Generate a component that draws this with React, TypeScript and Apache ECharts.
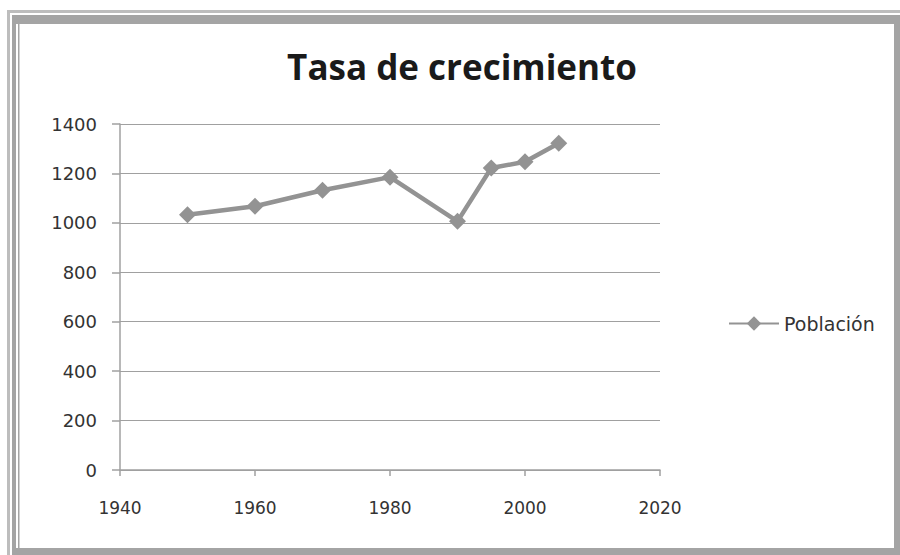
import React, { useEffect, useRef } from "react";
import * as echarts from "echarts";

const years = [1950, 1960, 1970, 1980, 1990, 1995, 2000, 2005];
const poblacion = [1033, 1067, 1132, 1185, 1006, 1222, 1247, 1322];
const titleText = "Tasa de crecimiento";
const seriesName = "Población";

export default function App() {
  const ref = useRef<HTMLDivElement>(null);
  useEffect(() => {
    if (!ref.current) return;
    const chart = echarts.init(ref.current, undefined, { renderer: "svg" });
    const data = years.map((y, i) => [y, poblacion[i]]);
    chart.setOption({
      animation: false,
      backgroundColor: "#ffffff",
      title: {
        text: titleText,
        left: 457,
        textAlign: "center",
        top: 44,
        textStyle: {
          fontFamily: "Open Sans",
          fontWeight: "bold",
          fontSize: 35,
          color: "#1a1a1a",
        },
      },
      legend: {
        left: 723,
        top: 309,
        itemWidth: 50,
        itemHeight: 18,
        itemGap: 6,
        textStyle: { fontFamily: "DejaVu Sans", fontSize: 19, color: "#333" },
        data: [seriesName],
      },
      grid: { left: 120, right: 240, top: 124, bottom: 85 },
      xAxis: {
        type: "value",
        min: 1940,
        max: 2020,
        interval: 20,
        axisLine: { show: true, lineStyle: { color: "#a0a0a0", width: 1.5 } },
        axisTick: { show: true, length: 6, lineStyle: { color: "#a0a0a0", width: 1.5 } },
        splitLine: { show: false },
        axisLabel: {
          margin: 29,
          fontFamily: "DejaVu Sans",
          fontSize: 17,
          color: "#333",
          formatter: (v: number) => String(v),
        },
      },
      yAxis: {
        type: "value",
        min: 0,
        max: 1400,
        interval: 200,
        axisLine: { show: true, lineStyle: { color: "#a0a0a0", width: 1.5 } },
        axisTick: { show: true, length: 8, lineStyle: { color: "#a0a0a0", width: 1.5 } },
        splitLine: { show: true, lineStyle: { color: "#a0a0a0", width: 1 } },
        axisLabel: {
          margin: 23,
          fontFamily: "DejaVu Sans",
          fontSize: 18,
          color: "#333",
          formatter: (v: number) => String(v),
        },
      },
      series: [
        {
          name: seriesName,
          type: "line",
          data,
          symbol: "diamond",
          symbolSize: 17,
          lineStyle: { color: "#939393", width: 4.5 },
          itemStyle: { color: "#939393" },
        },
      ],
      graphic: [
        { type: "rect", silent: true, z: -10, shape: { x: 7, y: 10, width: 893, height: 545 }, style: { fill: "#bdbdbd" } },
        { type: "rect", silent: true, z: -10, shape: { x: 10, y: 13, width: 890, height: 542 }, style: { fill: "#ffffff" } },
        { type: "rect", silent: true, z: -10, shape: { x: 12, y: 15, width: 888, height: 540 }, style: { fill: "#a4a4a4" } },
        { type: "rect", silent: true, z: -10, shape: { x: 16, y: 24, width: 878, height: 524 }, style: { fill: "#ffffff" } },
        { type: "rect", silent: true, z: -10, shape: { x: 18, y: 22, width: 1.5, height: 526 }, style: { fill: "#a4a4a4" } },
      ],
    });
    return () => chart.dispose();
  }, []);
  return (
    <div
      ref={ref}
      style={{ position: "fixed", left: 0, top: 0, width: 900, height: 555 }}
    />
  );
}
